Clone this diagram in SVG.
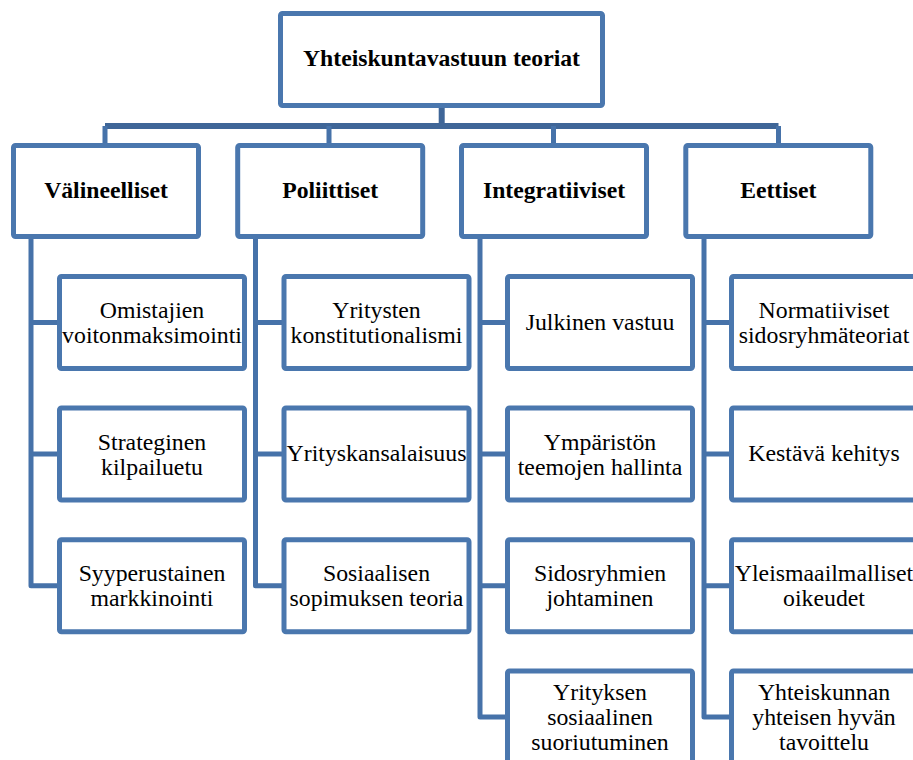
<svg xmlns="http://www.w3.org/2000/svg" width="913" height="760" viewBox="0 0 913 760">
<style>
.box{fill:#fff;stroke:#4a77ae;stroke-width:5;}
.con{fill:none;stroke:#4672a9;stroke-width:5;stroke-linejoin:round;}
.bus{fill:none;stroke:#3f6698;stroke-width:6;}
text{fill:#000;text-anchor:middle;}
.b{font-weight:bold;font-size:23.7px;}
.r{font-size:23.8px;}
</style>
<rect width="913" height="760" fill="#fff"/>
<g id="connectors">
<path class="bus" d="M441.7,108 V126 M105,126 H778.5"/>
<path class="con" d="M105,126 V143 M329,126 V143 M553.5,126 V143 M778.5,126 V143"/>
<path class="con" d="M31,236.5 V585.8 H59.5 M31,322.5 H59.5 M31,454 H59.5"/>
<path class="con" d="M255.5,236.5 V585.8 H284 M255.5,322.5 H284 M255.5,454 H284"/>
<path class="con" d="M480,236.5 V717 H507.5 M480,322.5 H507.5 M480,454 H507.5 M480,585.8 H507.5"/>
<path class="con" d="M704,236.5 V717 H731.5 M704,322.5 H731.5 M704,454 H731.5 M704,585.8 H731.5"/>
</g>
<g font-family="'Liberation Serif', 'DejaVu Serif', serif">
<g id="root"><rect class="box" x="280.5" y="13.5" width="322" height="92" rx="2"/><text class="b" x="441.5" y="66">Yhteiskuntavastuun teoriat</text></g>
<g id="h1"><rect class="box" x="13.5" y="145.5" width="185" height="91" rx="2"/><text class="b" x="106" y="198">Välineelliset</text></g>
<g id="h2"><rect class="box" x="237.7" y="145.5" width="185" height="91" rx="2"/><text class="b" x="330.2" y="198">Poliittiset</text></g>
<g id="h3"><rect class="box" x="461.5" y="145.5" width="185" height="91" rx="2"/><text class="b" x="554" y="198">Integratiiviset</text></g>
<g id="h4"><rect class="box" x="685.8" y="145.5" width="185" height="91" rx="2"/><text class="b" x="778.3" y="198">Eettiset</text></g>

<g id="c1a"><rect class="box" x="59.5" y="276.5" width="185" height="92" rx="2"/><text class="r" x="152" y="318">Omistajien</text><text class="r" x="152" y="343">voitonmaksimointi</text></g>
<g id="c1b"><rect class="box" x="59.5" y="408" width="185" height="92" rx="2"/><text class="r" x="152" y="449.5">Strateginen</text><text class="r" x="152" y="474.5">kilpailuetu</text></g>
<g id="c1c"><rect class="box" x="59.5" y="539.8" width="185" height="92" rx="2"/><text class="r" x="152" y="581">Syyperustainen</text><text class="r" x="152" y="606">markkinointi</text></g>

<g id="c2a"><rect class="box" x="284" y="276.5" width="185" height="92" rx="2"/><text class="r" x="376.5" y="318">Yritysten</text><text class="r" x="376.5" y="343">konstitutionalismi</text></g>
<g id="c2b"><rect class="box" x="284" y="408" width="185" height="92" rx="2"/><text class="r" x="376.5" y="461">Yrityskansalaisuus</text></g>
<g id="c2c"><rect class="box" x="284" y="539.8" width="185" height="92" rx="2"/><text class="r" x="376.5" y="581">Sosiaalisen</text><text class="r" x="376.5" y="606">sopimuksen teoria</text></g>

<g id="c3a"><rect class="box" x="507.5" y="276.5" width="185" height="92" rx="2"/><text class="r" x="600" y="329.5">Julkinen vastuu</text></g>
<g id="c3b"><rect class="box" x="507.5" y="408" width="185" height="92" rx="2"/><text class="r" x="600" y="449.5">Ympäristön</text><text class="r" x="600" y="474.5">teemojen hallinta</text></g>
<g id="c3c"><rect class="box" x="507.5" y="539.8" width="185" height="92" rx="2"/><text class="r" x="600" y="581">Sidosryhmien</text><text class="r" x="600" y="606">johtaminen</text></g>
<g id="c3d"><rect class="box" x="507.5" y="671" width="185" height="92" rx="2"/><text class="r" x="600" y="700">Yrityksen</text><text class="r" x="600" y="725">sosiaalinen</text><text class="r" x="600" y="750">suoriutuminen</text></g>

<g id="c4a"><rect class="box" x="731.5" y="276.5" width="185" height="92" rx="2"/><text class="r" x="824" y="318">Normatiiviset</text><text class="r" x="824" y="343">sidosryhmäteoriat</text></g>
<g id="c4b"><rect class="box" x="731.5" y="408" width="185" height="92" rx="2"/><text class="r" x="824" y="461">Kestävä kehitys</text></g>
<g id="c4c"><rect class="box" x="731.5" y="539.8" width="185" height="92" rx="2"/><text class="r" x="824" y="581">Yleismaailmalliset</text><text class="r" x="824" y="606">oikeudet</text></g>
<g id="c4d"><rect class="box" x="731.5" y="671" width="185" height="92" rx="2"/><text class="r" x="824" y="700">Yhteiskunnan</text><text class="r" x="824" y="725">yhteisen hyvän</text><text class="r" x="824" y="750">tavoittelu</text></g>
</g>
</svg>
